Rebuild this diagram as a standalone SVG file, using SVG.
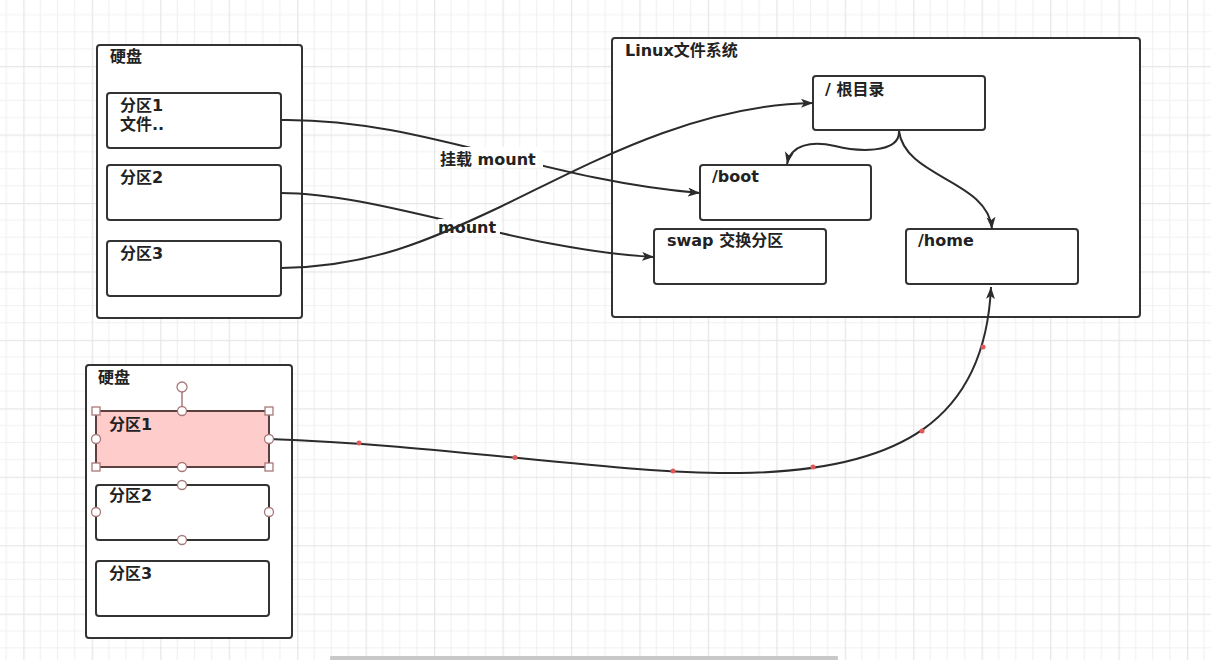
<svg xmlns="http://www.w3.org/2000/svg" width="1211" height="660" viewBox="0 0 1211 660">
<defs>
<pattern id="grid" patternUnits="userSpaceOnUse" x="23.3" y="-2.4" width="68.45" height="68.45">
<path d="M17.11 0V68.45M34.22 0V68.45M51.34 0V68.45M0 17.11H68.45M0 34.22H68.45M0 51.34H68.45" stroke="#f1f1f1" stroke-width="1.2" fill="none"/>
<path d="M0.6 0V68.45M0 0.6H68.45" stroke="#e7e7e7" stroke-width="1.4" fill="none"/>
</pattern>
<marker id="arr" markerUnits="userSpaceOnUse" markerWidth="14" markerHeight="10" refX="12" refY="4.5" orient="auto">
<path d="M0,0 L12,4.5 L0,9 L3,4.5 Z" fill="#2b2b2b"/>
</marker>
<style>
.box{fill:#fff;stroke:#333;stroke-width:2}
.t{font-family:"DejaVu Sans","Noto Sans CJK SC",sans-serif;font-size:16px;font-weight:bold;fill:#222}
.edge{fill:none;stroke:#2b2b2b;stroke-width:2}
.lbl{fill:#fff}
.h{fill:#fff;stroke:#a87878;stroke-width:1.3}
.dot{fill:#e05a5a}
</style>
</defs>
<rect width="1211" height="660" fill="#fff"/>
<rect width="1211" height="660" fill="url(#grid)"/>
<rect x="330" y="656" width="508" height="4" rx="1" fill="#c8c8c8"/>

<g id="disk1">
<rect class="box" x="97" y="45" width="205" height="273" rx="3"/>
<text class="t" x="110" y="62">硬盘</text>
</g>
<g id="d1p1">
<rect class="box" x="107" y="93" width="174" height="55" rx="3"/>
<text class="t" x="120" y="111">分区1</text>
<text class="t" x="120" y="130">文件..</text>
</g>
<g id="d1p2">
<rect class="box" x="107" y="165" width="174" height="55" rx="3"/>
<text class="t" x="120" y="183">分区2</text>
</g>
<g id="d1p3">
<rect class="box" x="107" y="241" width="174" height="55" rx="3"/>
<text class="t" x="120" y="259">分区3</text>
</g>

<g id="linux">
<rect class="box" x="612" y="38" width="528" height="279" rx="3"/>
<text class="t" x="625" y="56">Linux文件系统</text>
</g>
<g id="root">
<rect class="box" x="813" y="76" width="172" height="54" rx="3"/>
<text class="t" x="825" y="95">/ 根目录</text>
</g>
<g id="boot">
<rect class="box" x="700" y="165" width="171" height="55" rx="3"/>
<text class="t" x="712" y="182">/boot</text>
</g>
<g id="swap">
<rect class="box" x="654" y="229" width="172" height="55" rx="3"/>
<text class="t" x="667" y="246">swap 交换分区</text>
</g>
<g id="home">
<rect class="box" x="906" y="229" width="172" height="55" rx="3"/>
<text class="t" x="918" y="246">/home</text>
</g>

<g id="disk2">
<rect class="box" x="86" y="365" width="206" height="273" rx="3"/>
<text class="t" x="98" y="383">硬盘</text>
</g>
<g id="d2p1">
<rect x="96" y="411" width="173" height="56" fill="#ffcccc" stroke="#5c3f3f" stroke-width="2"/>
<text class="t" x="109" y="430">分区1</text>
</g>
<g id="d2p2">
<rect class="box" x="96" y="485" width="173" height="55" rx="3"/>
<text class="t" x="109" y="501">分区2</text>
</g>
<g id="d2p3">
<rect class="box" x="96" y="561" width="173" height="55" rx="3"/>
<text class="t" x="109" y="579">分区3</text>
</g>

<g id="connectors">
<path class="edge" d="M281 120 C420 118 540 180 700 193" marker-end="url(#arr)"/>
<rect class="lbl" x="440" y="147" width="103" height="21"/>
<text class="t" x="440" y="165">挂载 mount</text>
<path class="edge" d="M281 193 C380 193 520 250 654 257" marker-end="url(#arr)"/>
<rect class="lbl" x="438" y="219" width="62" height="16"/>
<text class="t" x="438" y="233">mount</text>
<path class="edge" d="M281 268 C370 267 430 240 500 207 C580 169 690 105 813 103" marker-end="url(#arr)"/>
<path class="edge" d="M899 131 C900 155 855 151 835 146 C812 141 791 144 787 164" marker-end="url(#arr)"/>
<path class="edge" d="M899 131 C905 178 988 180 992 229" marker-end="url(#arr)"/>
<path class="edge" d="M269 439 C450 445 620 475 740 473 C900 471 985 420 991 287" marker-end="url(#arr)"/>
<g>
<circle class="dot" cx="359" cy="443" r="2.5"/>
<circle class="dot" cx="515" cy="457.5" r="2.5"/>
<circle class="dot" cx="673" cy="471" r="2.5"/>
<circle class="dot" cx="813" cy="467" r="2.5"/>
<circle class="dot" cx="922" cy="431" r="2.5"/>
<circle class="dot" cx="983" cy="347" r="2.5"/>
</g>
</g>

<g id="handles">
<line x1="182" y1="392" x2="182" y2="407" stroke="#a87878" stroke-width="1.5"/>
<circle class="h" cx="182" cy="387" r="5"/>
<rect class="h" x="92" y="407" width="8" height="8"/>
<rect class="h" x="265" y="407" width="8" height="8"/>
<rect class="h" x="92" y="463" width="8" height="8"/>
<rect class="h" x="265" y="463" width="8" height="8"/>
<circle class="h" cx="182" cy="411" r="4.5"/>
<circle class="h" cx="96" cy="439" r="4.5"/>
<circle class="h" cx="269" cy="439" r="4.5"/>
<circle class="h" cx="182" cy="467" r="4.5"/>
<circle class="h" cx="182" cy="485" r="4.5"/>
<circle class="h" cx="96" cy="512" r="4.5"/>
<circle class="h" cx="269" cy="512" r="4.5"/>
<circle class="h" cx="182" cy="540" r="4.5"/>
</g>
</svg>
